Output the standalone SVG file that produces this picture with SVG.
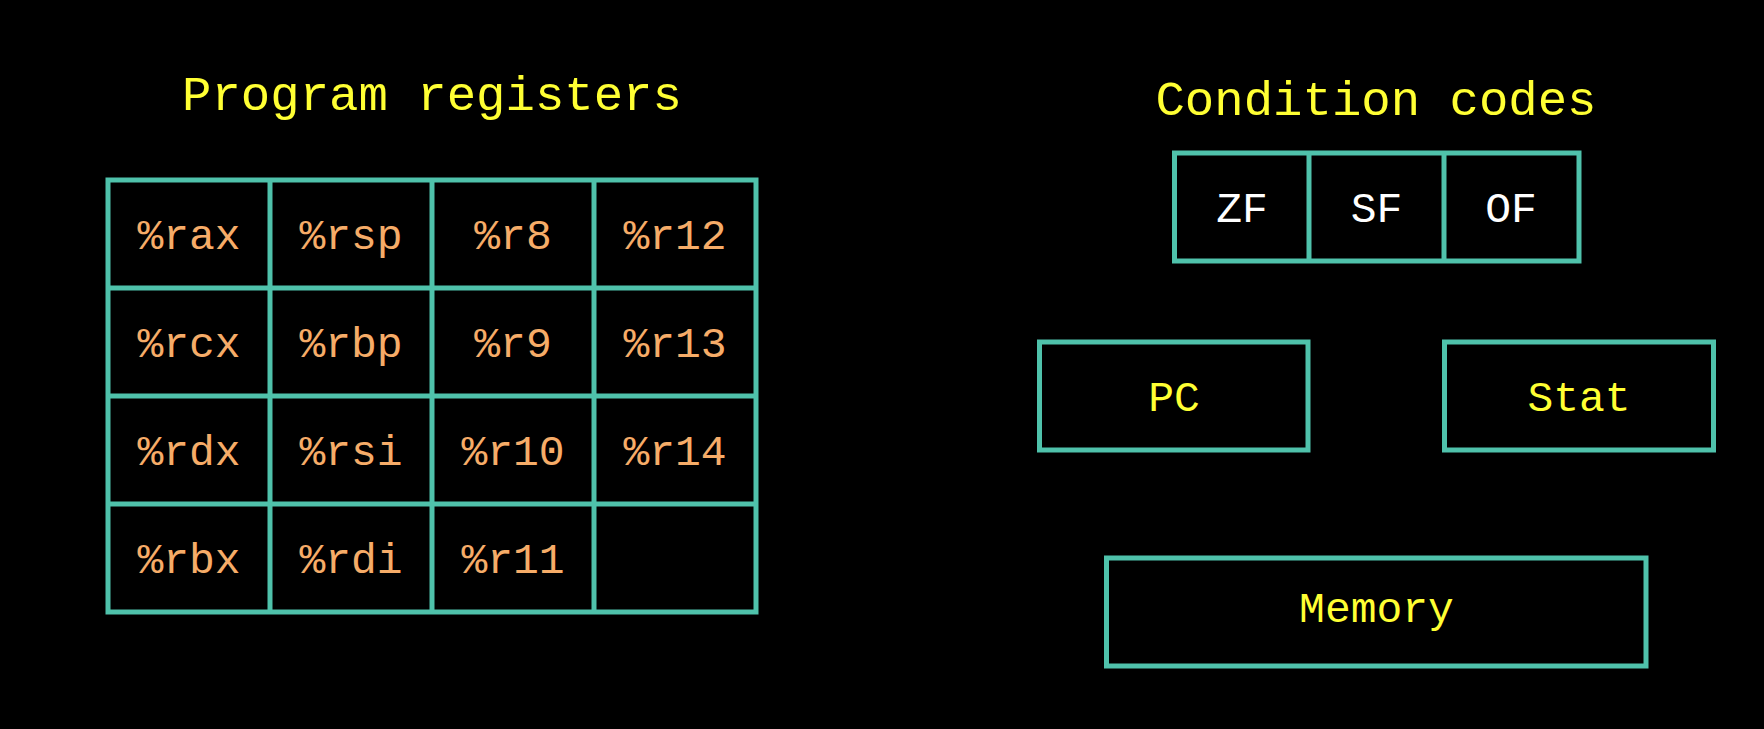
<svg xmlns="http://www.w3.org/2000/svg" width="1764" height="729" viewBox="0 0 1764 729">
<style>
.bx{fill:none;stroke:#4fc2ab;stroke-width:5}
.t{font-family:"Liberation Mono","DejaVu Sans Mono",monospace;text-anchor:middle}
.title{font-size:49px;fill:#ffff33}
.reg{font-size:43px;fill:#f6ac68}
.cc{font-size:43px;fill:#ffffff}
.lbl{font-size:43px;fill:#ffff33}
</style>
<rect x="0" y="0" width="1764" height="729" fill="#000000"/>
<g id="registers">
<text class="t title" x="432" y="110">Program registers</text>
<rect class="bx" x="108" y="180" width="648" height="432"/>
<path class="bx" d="M270 180V612M432 180V612M594 180V612M108 288H756M108 396H756M108 504H756"/>
<g class="t reg">
<text x="189" y="249">%rax</text><text x="351" y="249">%rsp</text><text x="513" y="249">%r8</text><text x="675" y="249">%r12</text>
<text x="189" y="357">%rcx</text><text x="351" y="357">%rbp</text><text x="513" y="357">%r9</text><text x="675" y="357">%r13</text>
<text x="189" y="465">%rdx</text><text x="351" y="465">%rsi</text><text x="513" y="465">%r10</text><text x="675" y="465">%r14</text>
<text x="189" y="573">%rbx</text><text x="351" y="573">%rdi</text><text x="513" y="573">%r11</text>
</g>
</g>
<g id="condition-codes">
<text class="t title" x="1376" y="115">Condition codes</text>
<rect class="bx" x="1174.5" y="153" width="404.5" height="108"/>
<path class="bx" d="M1309 153V261M1444 153V261"/>
<text class="t cc" x="1242" y="222">ZF</text>
<text class="t cc" x="1376.5" y="222">SF</text>
<text class="t cc" x="1511" y="222">OF</text>
</g>
<g id="pc">
<rect class="bx" x="1039.5" y="342" width="268.5" height="108"/>
<text class="t lbl" x="1174" y="411">PC</text>
</g>
<g id="stat">
<rect class="bx" x="1444.5" y="342" width="269" height="108"/>
<text class="t lbl" x="1579" y="411">Stat</text>
</g>
<g id="memory">
<rect class="bx" x="1106.5" y="558" width="539.5" height="108"/>
<text class="t lbl" x="1376.5" y="622">Memory</text>
</g>
<g id="connectors"/>
</svg>
